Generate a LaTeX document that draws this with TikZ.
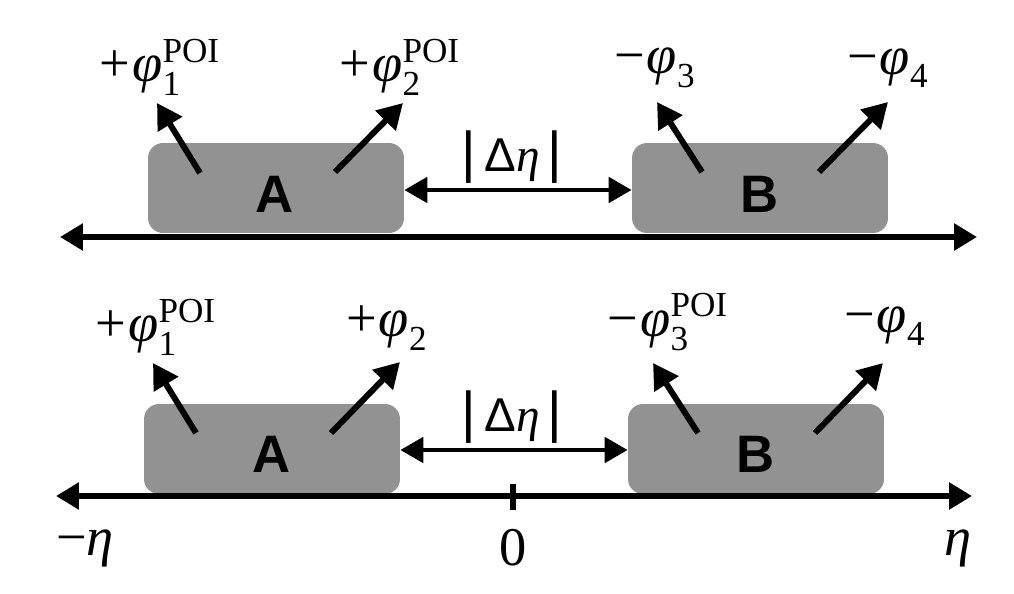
\RequirePackage{fix-cm}
\documentclass[tikz,border=0pt]{standalone}
\usepackage{fontspec}
\setmainfont{Liberation Serif}
\setsansfont{Liberation Sans}
\usetikzlibrary{arrows.meta}
\DeclareMathSizes{31}{31}{20}{15}
\definecolor{boxgray}{HTML}{929292}
\tikzset{
  pbox/.style={fill=boxgray, rounded corners=0.3cm, minimum width=5.12cm, minimum height=1.8cm, inner sep=0pt},
  blab/.style={font=\sffamily\bfseries\fontsize{30}{34}\selectfont},
  mlab/.style={font=\fontsize{31}{34}\selectfont, inner sep=0pt},
  dlab/.style={font=\fontsize{27}{30}\selectfont, inner sep=0pt},
  thk/.style={line width=3.4pt, -{Triangle[length=0.5cm,width=0.55cm]}},
  axis/.style={line width=3.4pt, {Triangle[length=0.46cm,width=0.52cm]}-{Triangle[length=0.46cm,width=0.52cm]}},
  darr/.style={line width=2.8pt, {Triangle[length=0.46cm,width=0.5cm]}-{Triangle[length=0.46cm,width=0.5cm]}}
}
\newcommand{\pl}{\mbox{+\kern1pt\itshape φ}}
\newcommand{\mi}{\mbox{−\kern1pt\itshape φ}}
\newcommand{\poi}{^{\mathrm{POI}}}
\newcommand{\vbarmark}{{\sffamily\fontsize{32}{34}\selectfont|}}
\newcommand{\deta}{\vbarmark\,{\sffamily Δ}{\itshape η}\,\vbarmark}
\begin{document}
\begin{tikzpicture}[x=0.02cm,y=-0.02cm]
\useasboundingbox (0,0) rectangle (1014,594);
% ---------- top panel ----------
\node[pbox] (A1) at (276,188) {};
\node[pbox] (B1) at (760,188) {};
\node[blab] (A1t) at (275,194) {A};
\node[blab] (B1t) at (760,194) {B};
\coordinate (a1l) at (200,173); \coordinate (a1lt) at (157,103);
\coordinate (a1r) at (335,172); \coordinate (a1rt) at (403,103);
\coordinate (b1l) at (702,172); \coordinate (b1lt) at (657,102);
\coordinate (b1r) at (819,172); \coordinate (b1rt) at (888,102);
\draw[thk] (a1l) -- (a1lt);
\draw[thk] (a1r) -- (a1rt);
\draw[thk] (b1l) -- (b1lt);
\draw[thk] (b1r) -- (b1rt);
\coordinate (ax1l) at (60,237); \coordinate (ax1r) at (977,237);
\draw[axis] (ax1l) -- (ax1r);
\draw[darr] ([yshift=-0.04cm]A1.east) -- ([yshift=-0.04cm]B1.west);
\node[dlab] (d1) at (512,157) {\deta};
\node[mlab] (p1) at (160,67) {$\pl_{\mathrm{1}}\poi$};
\node[mlab] (p2) at (400,67) {$\pl_{\mathrm{2}}\poi$};
\node[mlab] (p3) at (655,68) {$\mi_{\mathrm{3}}$};
\node[mlab] (p4) at (888,68) {$\mi_{\mathrm{4}}$};
% ---------- bottom panel ----------
\node[pbox] (A2) at (272,449) {};
\node[pbox] (B2) at (756,449) {};
\node[blab] (A2t) at (272,454) {A};
\node[blab] (B2t) at (756,454) {B};
\coordinate (a2l) at (196,433); \coordinate (a2lt) at (153,363);
\coordinate (a2r) at (331,433); \coordinate (a2rt) at (400,362);
\coordinate (b2l) at (698,433); \coordinate (b2lt) at (653,363);
\coordinate (b2r) at (815,433); \coordinate (b2rt) at (883,363);
\draw[thk] (a2l) -- (a2lt);
\draw[thk] (a2r) -- (a2rt);
\draw[thk] (b2l) -- (b2lt);
\draw[thk] (b2r) -- (b2rt);
\coordinate (ax2l) at (56,496); \coordinate (ax2r) at (972,496);
\draw[axis] (ax2l) -- (ax2r);
\coordinate (tk1) at (513,484); \coordinate (tk2) at (513,510);
\draw[line width=3.4pt] (tk1) -- (tk2);
\draw[darr] ([yshift=-0.02cm]A2.east) -- ([yshift=-0.02cm]B2.west);
\node[dlab] (d2) at (512,417) {\deta};
\node[mlab] (q1) at (156,327) {$\pl_{\mathrm{1}}\poi$};
\node[mlab] (q2) at (387,328) {$\pl_{\mathrm{2}}$};
\node[mlab] (q3) at (668,322) {$\mi_{\mathrm{3}}\poi$};
\node[mlab] (q4) at (885,326) {$\mi_{\mathrm{4}}$};
\node[mlab] (l1) at (85,548) {−\textit{η}};
\node[mlab] (l2) at (513,548) {0};
\node[mlab] (l3) at (958,548) {\textit{η}};
\end{tikzpicture}
\end{document}
